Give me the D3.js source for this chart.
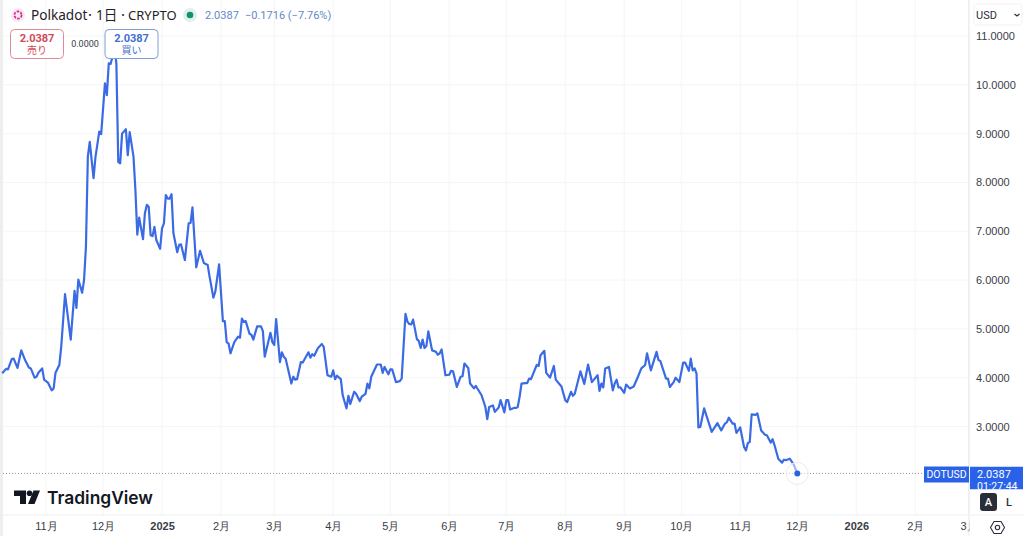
<!DOCTYPE html>
<html lang="ja">
<head>
<meta charset="utf-8">
<title>Polkadot / USD</title>
<style>
  html, body { margin: 0; padding: 0; background: #fff; }
  svg { display: block; font-family: Roboto, "Noto Sans CJK JP", sans-serif; }
  .axis .domain { display: none; }
  .axis .tick line { stroke: #f5f5f6; }
  .axis .tick text { fill: #3a3d46; font-size: 11px; }
</style>
</head>
<body>
<div id="chart"></div>
<script src="https://d3js.org/d3.v7.min.js"></script>
<script>
// days counted from 2024-11-01, closes in USD
var dayOffsets = [
  -23,-21,-20,-18,-17,-15,-13,-11,-9,-8,-6,-5,-4,-2,-1,1,3,4,5,7,8,10,13,15,16,17,19,20,21,
  22,23,25,26,28,29,31,32,33,34,35,36,37,38,39,40,42,43,44,46,47,48,49,51,52,53,54,55,56,57,58,
  60,61,62,63,64,65,66,67,69,70,71,73,75,76,77,79,81,83,85,86,88,89,91,93,94,95,96,97,99,101,102,
  103,104,105,107,108,109,111,113,114,115,118,119,120,121,123,124,125,126,129,130,131,132,134,135,
  138,139,140,141,143,145,146,148,150,151,152,153,155,156,158,159,160,162,163,165,166,168,169,170,
  171,174,176,177,178,180,181,182,184,186,187,189,190,191,192,193,195,196,197,198,199,200,201,203,
  205,206,207,208,210,212,213,214,216,218,219,220,222,223,225,226,229,231,232,233,235,236,238,239,
  241,242,243,244,246,247,248,249,250,252,253,254,255,258,259,260,262,263,265,267,268,271,273,274,
  276,277,278,281,283,285,287,290,291,292,293,294,296,298,299,300,301,302,304,305,307,309,311,313,
  315,316,318,321,322,323,326,327,328,330,331,333,335,336,338,339,340,341,342,343,344,346,348,350,
  353,355,357,358,359,361,362,363,365,367,368,369,370,371,373,374,376,378,379,381,382,383,385,387,
  388,389,391,393,395
];
var closes = [
  4.09,4.18,4.17,4.38,4.39,4.20,4.56,4.36,4.21,4.19,4.00,4.02,4.10,4.19,3.96,3.90,3.74,3.78,4.10,4.26,4.63,5.71,4.78,5.78,5.43,6.01,5.74,6.00,6.68,
  8.53,8.83,8.09,8.52,9.04,8.99,10.03,9.79,10.44,10.43,10.58,10.75,10.44,8.42,8.39,9.00,9.09,8.56,9.03,8.53,7.85,6.93,7.28,6.84,7.37,7.54,7.50,6.92,6.90,7.09,6.82,
  6.64,7.06,7.16,7.74,7.67,7.67,7.76,6.96,6.57,6.72,6.73,6.41,7.16,7.17,7.49,6.26,6.60,6.35,6.31,6.07,5.64,5.76,6.32,5.16,5.16,4.73,4.70,4.50,4.73,4.84,4.82,
  5.21,5.14,5.16,4.90,4.88,4.78,5.05,5.05,4.96,4.43,4.92,4.73,4.67,5.20,4.32,4.52,4.43,4.39,3.88,4.02,3.96,3.97,4.32,4.31,
  4.52,4.41,4.48,4.45,4.61,4.69,4.63,4.05,4.02,4.15,3.97,4.04,3.97,3.64,3.37,3.63,3.46,3.71,3.67,3.52,3.61,3.67,3.88,3.78,
  4.02,4.27,4.27,4.10,4.22,4.07,4.17,4.17,3.91,3.93,3.98,5.31,5.15,5.10,5.09,5.19,4.79,4.75,4.61,4.78,4.61,4.65,4.95,4.56,
  4.53,4.47,4.50,4.58,4.05,4.06,4.14,4.13,3.81,4.02,4.03,4.29,4.20,3.88,3.78,3.83,3.64,3.40,3.15,3.40,3.43,3.30,3.39,3.54,
  3.29,3.54,3.54,3.35,3.38,3.38,3.40,3.61,3.88,3.89,3.89,3.98,3.97,4.26,4.24,4.46,4.55,4.10,4.00,4.24,3.96,3.82,3.54,3.50,
  3.71,3.63,3.67,4.13,3.87,4.27,3.91,4.05,3.73,3.88,3.80,4.19,4.22,3.74,3.88,3.96,3.80,3.80,3.69,3.86,3.78,3.82,4.00,4.19,
  4.26,4.50,4.15,4.53,4.36,4.34,3.98,3.98,3.81,3.91,4.00,3.91,4.31,4.31,4.14,4.39,4.15,4.19,4.09,2.98,2.99,3.37,3.13,2.89,
  3.07,2.92,3.06,3.09,3.18,3.06,3.06,2.87,2.98,2.58,2.51,2.66,2.68,3.25,3.24,3.27,2.92,2.83,2.82,2.67,2.74,2.62,2.34,2.26,
  2.32,2.31,2.34,2.23,2.0387
];
var priceTicks = [3, 4, 5, 6, 7, 8, 9, 10, 11];
var monthDays = [0, 30, 61, 92, 120, 151, 181, 212, 242, 273, 304, 334, 365, 395, 426, 457, 485];
var monthLabels = ["11月", "12月", "2025", "2月", "3月", "4月", "5月", "6月", "7月", "8月", "9月", "10月", "11月", "12月", "2026", "2月", "3月"];
var lastPrice = closes[closes.length - 1];

var width = 1024, height = 536;
var paneRight = 969, paneBottom = 515;
var lineBlue = "#3a6be4";

var x = d3.scaleLinear().domain([0, 395]).range([46, 797.3]);
var y = d3.scaleLinear().domain([3, 11]).range([426.5, 36]);

var svg = d3.select("#chart").append("svg")
  .attr("width", width)
  .attr("height", height);

var defs = svg.append("defs");
defs.append("clipPath").attr("id", "timeClip").append("rect")
  .attr("x", 0).attr("y", paneBottom).attr("width", paneRight + 1).attr("height", height - paneBottom);
defs.append("clipPath").attr("id", "priceTagClip").append("rect")
  .attr("x", 970).attr("y", 466.5).attr("width", 53).attr("height", 23);

// grid + axes
svg.append("g")
  .attr("class", "axis")
  .attr("transform", "translate(" + paneRight + ",0)")
  .call(d3.axisRight(y).tickValues(priceTicks).tickSize(0).tickPadding(7).tickFormat(d3.format(".4f")));

svg.append("g")
  .attr("class", "axis")
  .selectAll("line")
  .data(priceTicks)
  .join("line")
  .attr("x1", 3).attr("x2", paneRight)
  .attr("y1", d => y(d)).attr("y2", d => y(d))
  .attr("stroke", "#f5f5f6");

svg.append("g")
  .selectAll("line")
  .data(monthDays)
  .join("line")
  .attr("x1", d => x(d)).attr("x2", d => x(d))
  .attr("y1", 0).attr("y2", paneBottom)
  .attr("stroke", "#f5f5f6");

var timeAxis = svg.append("g")
  .attr("class", "axis")
  .attr("clip-path", "url(#timeClip)")
  .append("g")
  .attr("transform", "translate(0," + paneBottom + ")")
  .call(d3.axisBottom(x).tickValues(monthDays).tickSize(0).tickPadding(7)
    .tickFormat((d, i) => monthLabels[i]));
timeAxis.selectAll(".tick text")
  .style("font-weight", (d, i) => /^\d{4}$/.test(monthLabels[i]) ? 700 : 400);

// pane borders and left edge
svg.append("rect").attr("x", 0).attr("y", 0).attr("width", 3).attr("height", height).attr("fill", "#eeeeee");
svg.append("line").attr("x1", paneRight).attr("x2", paneRight).attr("y1", 0).attr("y2", height).attr("stroke", "#e6e7ea");
svg.append("line").attr("x1", 3).attr("x2", width).attr("y1", paneBottom).attr("y2", paneBottom).attr("stroke", "#eeeff1");

// last price dotted line
svg.append("line")
  .attr("x1", 3).attr("x2", 924)
  .attr("y1", y(lastPrice)).attr("y2", y(lastPrice))
  .attr("stroke", "#8f96a8")
  .attr("stroke-dasharray", "1 2");

// price line
var line = d3.line()
  .x(d => x(d))
  .y((d, i) => y(closes[i]));

svg.append("path")
  .datum(dayOffsets)
  .attr("fill", "none")
  .attr("stroke", lineBlue)
  .attr("stroke-width", 2.2)
  .attr("stroke-linejoin", "round")
  .attr("d", line);

var lastDay = dayOffsets[dayOffsets.length - 1];
svg.append("circle")
  .attr("cx", x(lastDay)).attr("cy", y(lastPrice)).attr("r", 11)
  .attr("fill", "#fff").attr("fill-opacity", 0.5).attr("stroke", "#ececf2");
svg.append("circle")
  .attr("cx", x(lastDay)).attr("cy", y(lastPrice)).attr("r", 3)
  .attr("fill", "#2a62e0");

// header
var header = svg.append("g");
header.append("circle").attr("cx", 18).attr("cy", 15).attr("r", 7).attr("fill", "#f7e8f2");
header.append("circle").attr("cx", 18).attr("cy", 15).attr("r", 3.6)
  .attr("fill", "none").attr("stroke", "#d6278f").attr("stroke-width", 1.7).attr("stroke-dasharray", "2.6 1.2");
var title = header.append("g").attr("fill", "#1f2229")
  .style("font-family", '"Noto Sans", "Noto Sans CJK JP", sans-serif');
title.append("text").attr("x", 31).attr("y", 20).attr("font-size", 13.6).text("Polkadot");
title.append("text").attr("x", 85.5).attr("y", 18).attr("font-size", 9).text("・");
title.append("text").attr("x", 96).attr("y", 20).attr("font-size", 13.6).text("1日");
title.append("text").attr("x", 118.5).attr("y", 18).attr("font-size", 9).text("・");
title.append("text").attr("x", 128).attr("y", 20).attr("font-size", 13).text("CRYPTO");
header.append("circle").attr("cx", 190).attr("cy", 15).attr("r", 7).attr("fill", "#dff1ed");
header.append("circle").attr("cx", 190).attr("cy", 15).attr("r", 3.3).attr("fill", "#13916f");
header.append("text").attr("x", 205).attr("y", 19)
  .attr("font-size", 11).attr("fill", "#5f8ac6")
  .text("2.0387");
header.append("text").attr("x", 245).attr("y", 19)
  .attr("font-size", 11).attr("fill", "#5f8ac6")
  .text("−0.1716 (−7.76%)");

// sell / buy boxes
function tradeBox(bx, stroke, fill, label) {
  var g = svg.append("g");
  g.append("rect").attr("x", bx).attr("y", 29.5).attr("width", 53).attr("height", 29).attr("rx", 4)
    .attr("fill", "#fff").attr("stroke", stroke);
  g.append("text").attr("x", bx + 26.5).attr("y", 41.5).attr("text-anchor", "middle")
    .attr("font-size", 11).attr("font-weight", 700).attr("fill", fill).text("2.0387");
  g.append("text").attr("x", bx + 26.5).attr("y", 53.5).attr("text-anchor", "middle")
    .attr("font-size", 10).attr("fill", fill).text(label);
}
tradeBox(10.5, "#dd8c95", "#cf4a5a", "売り");
tradeBox(105, "#7f9fd6", "#3f6fd0", "買い");
svg.append("text").attr("x", 85).attr("y", 46.5).attr("text-anchor", "middle")
  .attr("font-size", 9).attr("fill", "#3a3d46").text("0.0000");

// currency selector
svg.append("rect").attr("x", 974).attr("y", 4).attr("width", 48).attr("height", 21).attr("rx", 3)
  .attr("fill", "#fff").attr("stroke", "#f3f3f4");
svg.append("text").attr("x", 976).attr("y", 19).attr("font-size", 11).attr("fill", "#2a2e39").text("USD");
svg.append("path").attr("d", "M1014.5 14l2.5 2 2.5-2").attr("fill", "none").attr("stroke", "#2a2e39").attr("stroke-width", 1.2);

// last price tags
svg.append("rect").attr("x", 924).attr("y", 466.5).attr("width", 45).attr("height", 16).attr("fill", "#2962e8");
svg.append("text").attr("x", 946.5).attr("y", 478).attr("text-anchor", "middle")
  .attr("font-size", 10.5).attr("fill", "#fff").text("DOTUSD");
var priceTag = svg.append("g").attr("clip-path", "url(#priceTagClip)");
priceTag.append("rect").attr("x", 970).attr("y", 466.5).attr("width", 53).attr("height", 23).attr("fill", "#2962e8");
priceTag.append("text").attr("x", 977).attr("y", 478).attr("font-size", 11).attr("fill", "#fff").text("2.0387");
priceTag.append("text").attr("x", 977).attr("y", 490).attr("font-size", 10.5).attr("fill", "#fff").text("01:27:44");

// auto / log buttons
svg.append("rect").attr("x", 980).attr("y", 493).attr("width", 17).attr("height", 18).attr("rx", 3).attr("fill", "#2a2e39");
svg.append("text").attr("x", 988.5).attr("y", 506).attr("text-anchor", "middle")
  .attr("font-size", 11).attr("font-weight", 500).attr("fill", "#fff").text("A");
svg.append("text").attr("x", 1009).attr("y", 506).attr("text-anchor", "middle")
  .attr("font-size", 11).attr("font-weight", 500).attr("fill", "#2a2e39").text("L");

// settings icon
svg.append("path").attr("d", "M994 521.5h7l3.5 6-3.5 6h-7l-3.5-6z")
  .attr("fill", "none").attr("stroke", "#2a2e39").attr("stroke-width", 1.1);
svg.append("circle").attr("cx", 997.5).attr("cy", 527.5).attr("r", 2.2)
  .attr("fill", "none").attr("stroke", "#2a2e39").attr("stroke-width", 1.1);

// TradingView logo
var logo = svg.append("g").attr("fill", "#131722");
logo.append("path").attr("d", "M14 490.5h12v13.5h-6v-8h-6z");
logo.append("circle").attr("cx", 29.5).attr("cy", 493.3).attr("r", 2.8);
logo.append("path").attr("d", "M33.5 490.5h6.5l-5.5 13.5h-6.5z");
svg.append("text").attr("x", 47).attr("y", 503.5)
  .attr("font-size", 17.4).attr("font-weight", 600).attr("fill", "#131722")
  .style("font-family", 'Inter, "Noto Sans", sans-serif')
  .text("TradingView");
</script>
</body>
</html>
